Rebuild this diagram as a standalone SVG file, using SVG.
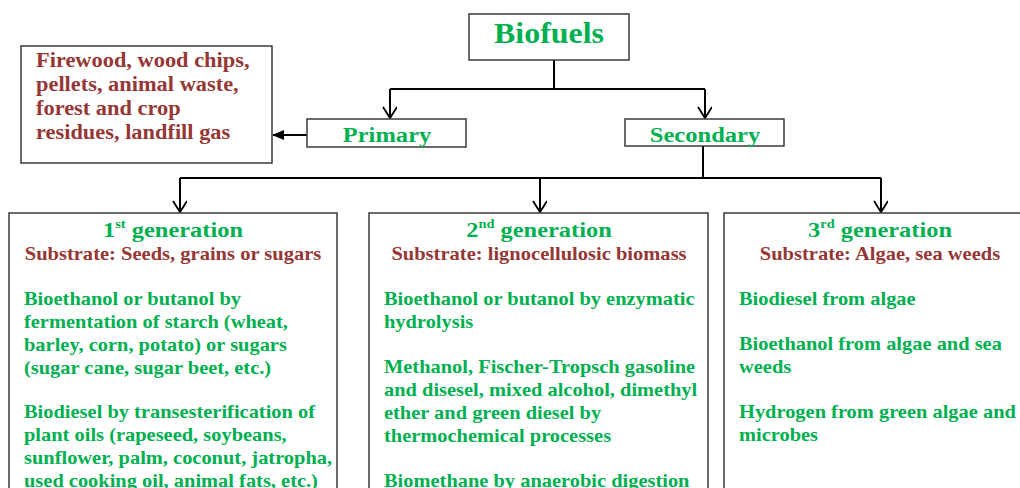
<svg xmlns="http://www.w3.org/2000/svg" width="1020" height="488" viewBox="0 0 1020 488">
<style>
text{font-family:"Liberation Serif","Times New Roman",serif;font-weight:bold}
.box{fill:#fff;stroke:#3a3a3a;stroke-width:1.5}
.g{fill:#00B050}
.r{fill:#953735}
.b{font-size:18px}
.s{font-size:18px;text-anchor:middle}
.t{font-size:22px;text-anchor:middle}
.c{text-anchor:middle}
.con{stroke:#000;stroke-width:2;fill:none}
</style>
<defs>
<marker id="open" markerWidth="14" markerHeight="16" refX="12" refY="7" orient="auto" markerUnits="userSpaceOnUse" viewBox="0 0 14 16">
<path d="M1,0 L12,7 L1,14" fill="none" stroke="#000" stroke-width="1.8"/>
</marker>
<marker id="solid" markerWidth="12" markerHeight="10" refX="11" refY="5" orient="auto" markerUnits="userSpaceOnUse">
<path d="M0,0 L12,5 L0,10 Z" fill="#000"/>
</marker>
</defs>
<g id="connectors">
<path class="con" d="M554,60 V89"/>
<path class="con" d="M390,89 H705"/>
<path class="con" d="M390,89 V118" marker-end="url(#open)"/>
<path class="con" d="M705,89 V118" marker-end="url(#open)"/>
<path class="con" d="M307,135 H273" marker-end="url(#solid)"/>
<path class="con" d="M703,146 V178"/>
<path class="con" d="M180,178 H881"/>
<path class="con" d="M180,178 V212" marker-end="url(#open)"/>
<path class="con" d="M540,178 V212" marker-end="url(#open)"/>
<path class="con" d="M881,178 V212" marker-end="url(#open)"/>
</g>
<g id="biofuels">
<rect class="box" x="469" y="14" width="160" height="46"/>
<text class="g c" transform="translate(549,0) scale(1.1,1)" x="0" y="43" font-size="29">Biofuels</text>
</g>
<g id="primary">
<rect class="box" x="307" y="119" width="159" height="28"/>
<text class="g c" transform="translate(387,0) scale(1.17,1)" x="0" y="142" font-size="21">Primary</text>
</g>
<g id="secondary">
<rect class="box" x="625" y="119" width="159" height="27"/>
<text class="g c" transform="translate(705,0) scale(1.17,1)" x="0" y="142" font-size="21">Secondary</text>
</g>
<g id="primary-sources">
<rect class="box" x="21" y="46" width="251" height="117"/>
<g transform="translate(36,0) scale(1.12,1)" font-size="20">
<text class="r" x="0" y="67">Firewood, wood chips,</text>
<text class="r" x="0" y="91">pellets, animal waste,</text>
<text class="r" x="0" y="115">forest and crop</text>
<text class="r" x="0" y="139">residues, landfill gas</text>
</g>
</g>
<g id="gen1">
<rect class="box" x="9" y="213" width="328" height="290"/>
<text class="g t" transform="translate(173,0) scale(1.11,1)" x="0" y="237">1<tspan font-size="13" dy="-9">st</tspan><tspan dy="9"> generation</tspan></text>
<text class="r s" transform="translate(173,0) scale(1.14,1)" x="0" y="260">Substrate: Seeds, grains or sugars</text>
<g transform="translate(24,0) scale(1.135,1)">
<text class="g b" x="0" y="305">Bioethanol or butanol by</text>
<text class="g b" x="0" y="328">fermentation of starch (wheat,</text>
<text class="g b" x="0" y="351">barley, corn, potato) or sugars</text>
<text class="g b" x="0" y="374">(sugar cane, sugar beet, etc.)</text>
<text class="g b" x="0" y="418">Biodiesel by transesterification of</text>
<text class="g b" x="0" y="441">plant oils (rapeseed, soybeans,</text>
<text class="g b" x="0" y="464">sunflower, palm, coconut, jatropha,</text>
<text class="g b" x="0" y="487">used cooking oil, animal fats, etc.)</text>
</g>
</g>
<g id="gen2">
<rect class="box" x="369" y="213" width="339" height="290"/>
<text class="g t" transform="translate(539,0) scale(1.11,1)" x="0" y="237">2<tspan font-size="13" dy="-9">nd</tspan><tspan dy="9"> generation</tspan></text>
<text class="r s" transform="translate(539,0) scale(1.14,1)" x="0" y="260">Substrate: lignocellulosic biomass</text>
<g transform="translate(384,0) scale(1.135,1)">
<text class="g b" x="0" y="305">Bioethanol or butanol by enzymatic</text>
<text class="g b" x="0" y="328">hydrolysis</text>
<text class="g b" x="0" y="373">Methanol, Fischer-Tropsch gasoline</text>
<text class="g b" x="0" y="396">and disesel, mixed alcohol, dimethyl</text>
<text class="g b" x="0" y="419">ether and green diesel by</text>
<text class="g b" x="0" y="442">thermochemical processes</text>
<text class="g b" x="0" y="487">Biomethane by anaerobic digestion</text>
</g>
</g>
<g id="gen3">
<rect class="box" x="724" y="213" width="310" height="290"/>
<text class="g t" transform="translate(880,0) scale(1.11,1)" x="0" y="237">3<tspan font-size="13" dy="-9">rd</tspan><tspan dy="9"> generation</tspan></text>
<text class="r s" transform="translate(880,0) scale(1.14,1)" x="0" y="260">Substrate: Algae, sea weeds</text>
<g transform="translate(739,0) scale(1.135,1)">
<text class="g b" x="0" y="305">Biodiesel from algae</text>
<text class="g b" x="0" y="350">Bioethanol from algae and sea</text>
<text class="g b" x="0" y="373">weeds</text>
<text class="g b" x="0" y="418">Hydrogen from green algae and</text>
<text class="g b" x="0" y="441">microbes</text>
</g>
</g>
</svg>
